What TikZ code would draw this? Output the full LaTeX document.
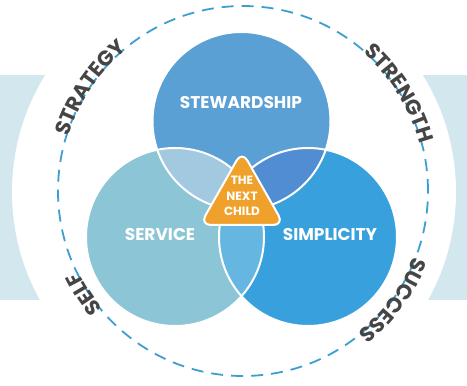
\documentclass[tikz,border=0pt]{standalone}
\usepackage{fontspec}
\setmainfont{Poppins}
\usetikzlibrary{calc}
\usetikzlibrary{positioning}
\usetikzlibrary{decorations.text}

\definecolor{bandblue}{HTML}{D3E8EE}
\definecolor{ringblue}{HTML}{3C9FD2}
\definecolor{stewblue}{HTML}{5BA0D5}
\definecolor{servblue}{HTML}{8CC5D5}
\definecolor{simpblue}{HTML}{38A1DD}
\definecolor{stewserv}{HTML}{A2C9E0}
\definecolor{stewsimp}{HTML}{508DD2}
\definecolor{servsimp}{HTML}{66B6E2}
\definecolor{childorange}{HTML}{F0A12C}
\definecolor{wordgray}{HTML}{454545}

\tikzset{
  venn label/.style={text=white,font=\bfseries\fontsize{17}{17}\selectfont},
  venn edge/.style={draw=white,line width=2pt},
  ring/.style={draw=ringblue,line width=1.8pt,dash pattern=on 12pt off 8pt}
}

\begin{document}
\begin{tikzpicture}[x=1pt,y=1pt]
\useasboundingbox (0,0) rectangle (467,386);

\coordinate (o) at (243,195);
\coordinate (stew) at (241.5,265);
\coordinate (serv) at (175,149);
\coordinate (simp) at (308,149);

% band behind the ring
\fill[bandblue] (0,86) rectangle (467,311);
\fill[white] (234,194) circle[radius=222];
\draw[ring] (o) circle[radius=185];

\fill[stewblue] (stew) circle[radius=89];
\fill[servblue] (serv) circle[radius=89];
\fill[simpblue] (simp) circle[radius=89];

\begin{scope}
\clip (stew) circle[radius=89];
\fill[stewserv] (serv) circle[radius=89];
\fill[stewsimp] (simp) circle[radius=89];
\end{scope}
\begin{scope}
\clip (serv) circle[radius=89];
\fill[servsimp] (simp) circle[radius=89];
\end{scope}

\path[venn edge] (stew) circle[radius=89];
\path[venn edge] (serv) circle[radius=89];
\path[venn edge] (simp) circle[radius=89];

\coordinate (t1) at (242,235);
\coordinate (t2) at (200,161);
\coordinate (t3) at (284,161);
\filldraw[fill=childorange,draw=white,line width=2pt,rounded corners=11pt] (t1) -- (t2) -- (t3) -- cycle;
\node[align=center,text=white,font=\bfseries\fontsize{12}{15.5}\selectfont] (child) at (242,190) {THE\\NEXT\\CHILD};

\node[venn label] (stew label) at (241,283) {STEWARDSHIP};
\node[venn label] (serv label) at (160,151) {SERVICE};
\node[venn label] (simp label) at (330,151) {SIMPLICITY};

\path[decorate,decoration={text along path,text align=center,raise=-2pt,
  text={|\color{wordgray}\bfseries\fontsize{21}{21}\selectfont|STRATEGY}}]
  ($(o)+(186:185)$) arc[start angle=186,end angle=106,radius=185];
\path[decorate,decoration={text along path,text align=center,raise=-2pt,
  text={|\color{wordgray}\bfseries\fontsize{21}{21}\selectfont|STRENGTH}}]
  ($(o)+(72:185)$) arc[start angle=72,end angle=-8,radius=185];
\path[decorate,decoration={text along path,text align=center,raise=-2pt,
  text={|\color{wordgray}\bfseries\fontsize{21}{21}\selectfont|SELF}}]
  ($(o)+(253:185)$) arc[start angle=253,end angle=173,radius=185];
\path[decorate,decoration={text along path,text align=center,raise=-2pt,
  text={|\color{wordgray}\bfseries\fontsize{21}{21}\selectfont|SUCCESS}}]
  ($(o)+(364:185)$) arc[start angle=364,end angle=284,radius=185];
\end{tikzpicture}
\end{document}
